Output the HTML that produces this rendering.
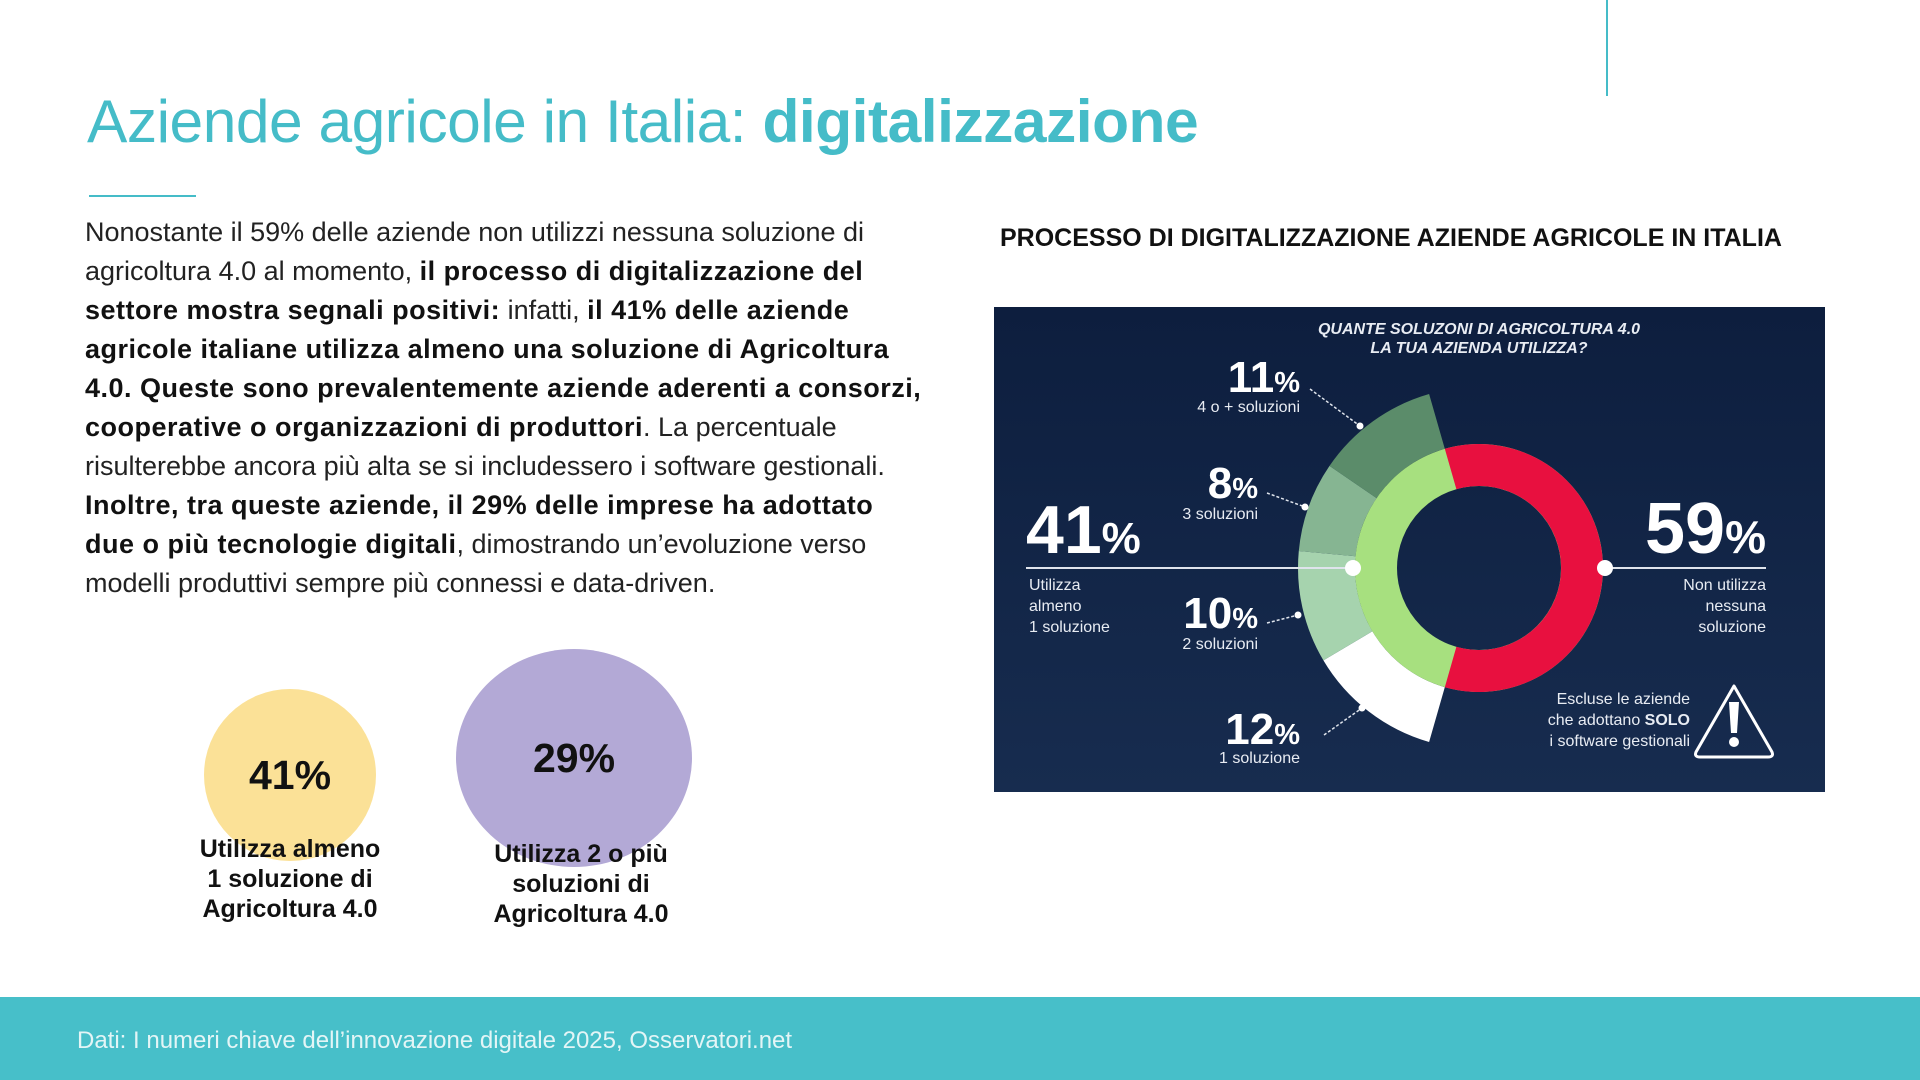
<!DOCTYPE html>
<html><head><meta charset="utf-8"><style>
html,body{margin:0;padding:0;}
body{width:1920px;height:1080px;position:relative;overflow:hidden;background:#fff;font-family:"Liberation Sans",Arial,sans-serif;}
.abs{position:absolute;white-space:nowrap;}
#title{left:87px;top:86px;font-size:60.5px;color:#45bcc8;letter-spacing:-0.5px;}
#title b{font-weight:bold;}
#ul{left:89px;top:195px;width:107px;height:2px;background:#45bcc8;}
#vl{left:1606px;top:0;width:2px;height:96px;background:#45bcc8;}
#body{left:85px;top:213px;font-size:27px;line-height:39px;color:#222;}
#body b{color:#111;letter-spacing:0.5px;}
.c{position:absolute;border-radius:50%;}
.lab{position:absolute;text-align:center;font-weight:bold;color:#111;font-size:25px;line-height:30px;white-space:nowrap;}
#foot{left:0;top:997px;width:1920px;height:83px;background:#47bfc9;}
#foottxt{left:77px;top:1027px;font-size:24px;color:#e3f5f6;}
#head{left:1000px;top:224px;font-size:25px;font-weight:bold;color:#111;}
</style></head><body>
<div class="abs" id="title">Aziende agricole in Italia: <b>digitalizzazione</b></div>
<div class="abs" id="ul"></div>
<div class="abs" id="vl"></div>
<div class="abs" id="body">Nonostante il 59% delle aziende non utilizzi nessuna soluzione di<br>agricoltura 4.0 al momento, <b>il processo di digitalizzazione del</b><br><b>settore mostra segnali positivi:</b> infatti, <b>il 41% delle aziende</b><br><b>agricole italiane utilizza almeno una soluzione di Agricoltura</b><br><b>4.0. Queste sono prevalentemente aziende aderenti a consorzi,</b><br><b>cooperative o organizzazioni di produttori</b>. La percentuale<br>risulterebbe ancora più alta se si includessero i software gestionali.<br><b>Inoltre, tra queste aziende, il 29% delle imprese ha adottato</b><br><b>due o più tecnologie digitali</b>, dimostrando un’evoluzione verso<br>modelli produttivi sempre più connessi e data-driven.</div>

<div class="c" style="left:204px;top:689px;width:172px;height:172px;background:#fbe197;"></div>
<div class="c" style="left:456px;top:649px;width:236px;height:218px;background:#b3a9d6;"></div>
<div class="abs" style="left:230px;top:752px;width:120px;text-align:center;font-size:41px;font-weight:bold;color:#111;">41%</div>
<div class="abs" style="left:514px;top:735px;width:120px;text-align:center;font-size:41px;font-weight:bold;color:#111;">29%</div>
<div class="lab" style="left:180px;top:834px;width:220px;">Utilizza almeno<br>1 soluzione di<br>Agricoltura 4.0</div>
<div class="lab" style="left:471px;top:839px;width:220px;">Utilizza 2 o più<br>soluzioni di<br>Agricoltura 4.0</div>

<div class="abs" id="head">PROCESSO DI DIGITALIZZAZIONE AZIENDE AGRICOLE IN ITALIA</div>

<svg class="abs" style="left:0;top:0" width="1920" height="1080" viewBox="0 0 1920 1080" font-family="Liberation Sans, Arial, sans-serif">
<defs><linearGradient id="g" x1="0" y1="0" x2="0" y2="1"><stop offset="0" stop-color="#0d1e3e"/><stop offset="1" stop-color="#172c4f"/></linearGradient></defs>
<rect x="994" y="307" width="831" height="485" fill="url(#g)"/>
<text x="1479" y="334" fill="#e8ecf3" font-size="16" font-weight="bold" font-style="italic" text-anchor="middle">QUANTE SOLUZONI DI AGRICOLTURA 4.0</text>
<text x="1479" y="353" fill="#e8ecf3" font-size="16" font-weight="bold" font-style="italic" text-anchor="middle">LA TUA AZIENDA UTILIZZA?</text>
<path d="M1429.1,742 A181,181 0 0 1 1323.4,660.4 L1372.4,631.3 A124,124 0 0 0 1444.8,687.2 Z" fill="#ffffff"/>
<path d="M1323.4,660.4 A181,181 0 0 1 1298.8,551 L1355.6,556.3 A124,124 0 0 0 1372.4,631.3 Z" fill="#a6d3ae"/>
<path d="M1298.8,551 A181,181 0 0 1 1329.5,465.9 L1376.6,498.1 A124,124 0 0 0 1355.6,556.3 Z" fill="#86b592"/>
<path d="M1329.5,465.9 A181,181 0 0 1 1429.1,394 L1444.8,448.8 A124,124 0 0 0 1376.6,498.1 Z" fill="#5b8c6a"/>
<circle cx="1479" cy="568" r="103" fill="none" stroke="#a7e07f" stroke-width="42"/>
<path d="M1444.8,448.8 A124,124 0 1 1 1444.8,687.2 L1456.4,646.8 A82,82 0 1 0 1456.4,489.2 Z" fill="#e8103f"/>
<line x1="1026" y1="568" x2="1353" y2="568" stroke="#dfe4ec" stroke-width="2"/>
<line x1="1605" y1="568" x2="1766" y2="568" stroke="#dfe4ec" stroke-width="2"/>
<circle cx="1353" cy="568" r="8" fill="#fff"/>
<circle cx="1605" cy="568" r="8" fill="#fff"/>
<g stroke="#dfe4ec" stroke-width="1.5" stroke-dasharray="3,2" fill="none">
<line x1="1310" y1="389" x2="1360" y2="426"/>
<line x1="1267" y1="493" x2="1305" y2="507"/>
<line x1="1267" y1="623" x2="1298" y2="615"/>
<line x1="1324" y1="735" x2="1362" y2="708"/>
</g>
<g fill="#fff"><circle cx="1360" cy="426" r="3.5"/><circle cx="1305" cy="507" r="3.5"/><circle cx="1298" cy="615" r="3.5"/><circle cx="1362" cy="708" r="3.5"/></g>
<g fill="#fff" font-weight="bold" text-anchor="end">
<text x="1300" y="392" font-size="44">11<tspan font-size="29">%</tspan></text>
<text x="1258" y="498" font-size="44">8<tspan font-size="29">%</tspan></text>
<text x="1258" y="628" font-size="44">10<tspan font-size="29">%</tspan></text>
<text x="1300" y="744" font-size="44">12<tspan font-size="29">%</tspan></text>
</g>
<g fill="#e8ecf3" font-size="16" text-anchor="end">
<text x="1300" y="412">4 o + soluzioni</text>
<text x="1258" y="519">3 soluzioni</text>
<text x="1258" y="649">2 soluzioni</text>
<text x="1300" y="763">1 soluzione</text>
</g>
<text x="1026" y="553" fill="#fff" font-size="68" font-weight="bold">41<tspan font-size="44">%</tspan></text>
<text x="1766" y="553" fill="#fff" font-size="72" font-weight="bold" text-anchor="end">59<tspan font-size="46">%</tspan></text>
<g fill="#e8ecf3" font-size="16">
<text x="1029" y="590">Utilizza</text><text x="1029" y="611">almeno</text><text x="1029" y="632">1 soluzione</text>
</g>
<g fill="#e8ecf3" font-size="16" text-anchor="end">
<text x="1766" y="590">Non utilizza</text><text x="1766" y="611">nessuna</text><text x="1766" y="632">soluzione</text>
<text x="1690" y="704">Escluse le aziende</text>
<text x="1690" y="725">che adottano <tspan font-weight="bold">SOLO</tspan></text>
<text x="1690" y="746">i software gestionali</text>
</g>
<path d="M1734,686 L1772,752 Q1774,757 1768,757 L1700,757 Q1694,757 1696,752 Z" fill="none" stroke="#fff" stroke-width="3" stroke-linejoin="round"/>
<path d="M1729,702 L1739,702 L1737,733 L1731,733 Z" fill="#fff"/>
<circle cx="1734" cy="742" r="5" fill="#fff"/>
</svg>

<div class="abs" id="foot"></div>
<div class="abs" id="foottxt">Dati: I numeri chiave dell’innovazione digitale 2025, Osservatori.net</div>
</body></html>
